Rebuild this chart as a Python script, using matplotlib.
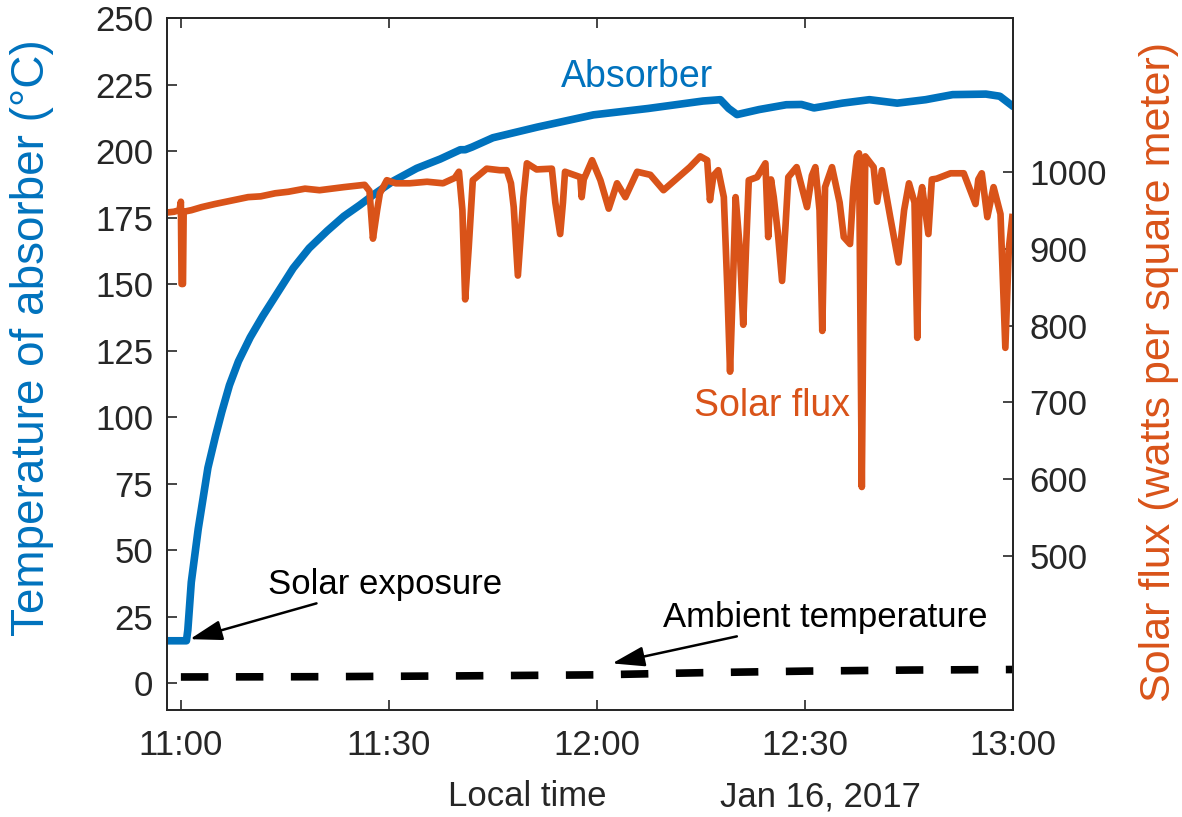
import matplotlib
matplotlib.use('Agg')
import matplotlib.pyplot as plt

plt.rcParams['font.family'] = ['Liberation Sans', 'DejaVu Sans']

# minutes after 11:00, Jan 16 2017
absorber_min = [-1.5, 0.8, 1.0, 1.5, 2.5, 3.9, 5.0, 5.9, 7.0, 8.3, 10.0, 11.8, 14.0, 16.2,
                18.5, 21.1, 23.5, 25.8, 28.0, 30.6, 34.0, 37.4, 40.3, 41.0, 42.0, 45.0,
                51.4, 59.5, 67.4, 75.3, 77.8, 79.0, 80.2, 83.4, 87.3, 89.5, 91.3, 95.4,
                99.3, 103.3, 107.4, 111.3, 116.1, 118.1, 119.7]
absorber_temp = [16, 16, 20, 38, 58, 81, 93, 102, 112, 121, 130, 138, 147, 156,
                 163.5, 170, 175.5, 179.7, 184, 188.7, 193.5, 197, 200.5, 200.5, 201.5, 205,
                 209, 213.6, 216, 218.8, 219.3, 216, 213.7, 215.6, 217.4, 217.5, 216.2, 218,
                 219.3, 218, 219.3, 221.2, 221.4, 220.6, 217.4]

flux_min = [-2.0, -1.0, -0.2, 0.0, 0.1, 0.3, 0.4, 1.5, 3.0, 4.9, 7.0, 9.7, 11.5, 13.6, 15.5,
            17.9, 20.0, 21.7, 23.5, 25.5, 26.5, 27.2, 27.7, 28.3, 28.7, 29.7, 31.0, 33.0,
            35.5, 37.8, 39.5, 40.1, 40.6, 41.0, 41.5, 42.1, 44.1, 46.0, 47.0, 47.6, 48.0,
            48.6, 49.1, 49.4, 49.9, 51.3, 53.5, 54.0, 54.7, 55.1, 55.4, 57.6, 57.8, 58.1,
            59.3, 60.5, 61.7, 62.9, 64.1, 65.8, 67.7, 69.6, 71.5, 73.4, 74.9, 75.9, 76.3,
            76.8, 77.5, 78.3, 78.8, 79.2, 79.6, 80.0, 80.6, 81.1, 81.5, 81.9, 83.1, 84.3,
            84.7, 85.1, 85.5, 86.1, 86.7, 87.2, 87.6, 88.8, 90.3, 91.0, 91.5, 92.1, 92.5,
            92.8, 92.9, 93.9, 95.0, 95.6, 96.5, 97.0, 97.5, 97.8, 98.0, 98.2, 98.4, 98.7,
            99.9, 100.4, 101.1, 102.3, 103.5, 104.3, 105.0, 105.8, 106.2, 106.5, 106.9,
            107.8, 108.3, 109.0, 111.0, 112.9, 114.6, 115.0, 115.5, 116.3, 117.2, 118.2,
            118.9, 119.4, 119.9]
flux_val = [947, 948, 950, 961, 854, 854, 948, 950, 954, 958, 962, 967, 968, 972, 974,
            978, 976, 978, 980, 982, 983, 975, 913, 950, 972, 989, 985, 985,
            987, 985, 992, 1000, 950, 834, 900, 989, 1004, 1002, 1002, 985, 954,
            865, 930, 967, 1011, 1003, 1004, 960, 919, 960, 1000, 993, 967, 990,
            1015, 989, 952, 985, 967, 1000, 996, 976, 991, 1006, 1020, 1015, 963,
            995, 1002, 967, 850, 740, 850, 967, 900, 801, 900, 989, 993, 1011,
            915, 990, 967, 920, 858, 930, 993, 1006, 954, 995, 1006, 950, 793,
            930, 980, 1006, 960, 915, 906, 980, 1020, 1024, 800, 590, 800, 1020,
            1006, 961, 1002, 941, 882, 950, 985, 960, 784, 960, 980,
            919, 990, 991, 998, 998, 958, 990, 998, 941, 980, 945,
            771, 900, 941]

ambient_min = [0, 20, 40, 60, 75, 90, 105, 120]
ambient_temp = [2.4, 2.5, 2.8, 3.2, 4.0, 4.6, 5.0, 5.2]

xtick_min = [0, 30, 60, 90, 120]
xtick_labels = ['11:00', '11:30', '12:00', '12:30', '13:00']
left_ticks = list(range(0, 251, 25))
right_ticks = [500, 600, 700, 800, 900, 1000]

blue = '#0072BD'
orange = '#D95319'
dark = '#262626'

fig = plt.figure(figsize=(11.82, 8.17), dpi=100)
ax = fig.add_axes([0.1413, 0.131, 0.7157, 0.847])
ax2 = ax.twinx()

ax.plot(absorber_min, absorber_temp, color=blue, lw=5.5, solid_joinstyle='round')
ax.plot(ambient_min, ambient_temp, color='k', lw=5.5, dashes=(3.6, 3.6))
ax2.plot(flux_min, flux_val, color=orange, lw=4.8, solid_joinstyle='round')

ax.set_xlim(-2, 120)
ax.set_ylim(-10, 250)
ax2.set_ylim(300, 1200)

ax.set_xticks(xtick_min)
ax.set_xticklabels(xtick_labels)
ax.set_yticks(left_ticks)
ax2.set_yticks(right_ticks)

ax.tick_params(axis='x', direction='in', top=True, length=7, width=1.2, pad=14,
               labelsize=25, colors=dark)
ax.tick_params(axis='y', direction='in', length=7, width=1.2, pad=10,
               labelsize=25, colors=dark)
ax2.tick_params(axis='y', direction='in', length=7, width=1.2, pad=12,
                labelsize=25, colors=dark)
for a in (ax, ax2):
    for s in a.spines.values():
        s.set_color(dark)
        s.set_linewidth(1.3)

# axis titles placed at their positions in the figure
fig.text(32 / 1182, 1 - 338 / 817, 'Temperature of absorber (°C)', color=blue,
         fontsize=33, rotation=90, ha='center', va='center')
fig.text(1159 / 1182, 1 - 372 / 817, 'Solar flux (watts per square meter)',
         color=orange, fontsize=31, rotation=90, ha='center', va='center')

fig.text(527 / 1182, 1 - 797 / 817, 'Local time', fontsize=25, color=dark,
         ha='center', va='center')
fig.text(820 / 1182, 1 - 797 / 817, 'Jan 16, 2017', fontsize=25, color=dark,
         ha='center', va='center')

ax.text(65.8, 228, 'Absorber', color=blue, fontsize=27, ha='center', va='center')
ax.text(85.3, 104.3, 'Solar flux', color=orange, fontsize=27, ha='center', va='center')

arrow = dict(arrowstyle='-|>,head_length=0.9,head_width=0.28', color='k', lw=1.8,
             shrinkA=0, shrinkB=0, mutation_scale=22)
ax.annotate('Solar exposure', xy=(1.3, 16.6), xytext=(12.5, 37.3), fontsize=25,
            color='k', ha='left', va='center', arrowprops=arrow)
ax.annotate('Ambient temperature', xy=(62.2, 7.5), xytext=(69.6, 24.9), fontsize=25,
            color='k', ha='left', va='center', arrowprops=arrow)

fig.savefig('out.png', dpi=100)
